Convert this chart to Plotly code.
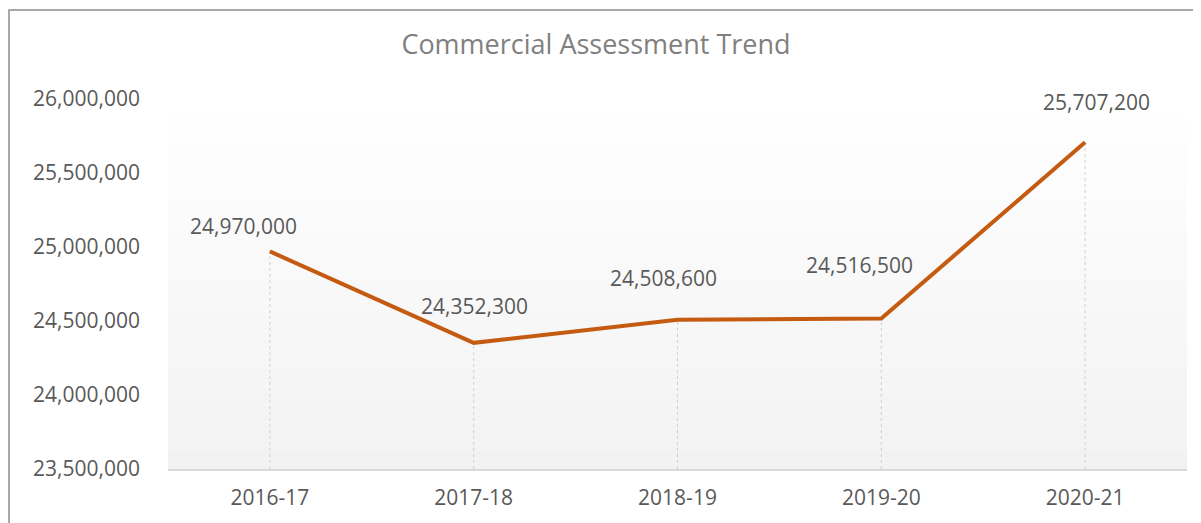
import plotly.graph_objects as go

years = ["2016-17", "2017-18", "2018-19", "2019-20", "2020-21"]
assessed = [24970000, 24352300, 24508600, 24516500, 25707200]
y_ticks = [23500000, 24000000, 24500000, 25000000, 25500000, 26000000]

# where Excel placed each data label relative to its point (pixels)
label_dx = [-26, 1, -14, -22, 11]
label_dy = [25, 37, 42, 54, 40]

y_min = y_ticks[0]
text_gray = "#595959"
font_name = "Open Sans"

# drop lines from each point down to the axis
drop_x, drop_y = [], []
for yr, val in zip(years, assessed):
    drop_x += [yr, yr, None]
    drop_y += [y_min, val, None]

drop_trace = go.Scatter(
    x=drop_x, y=drop_y, mode="lines",
    line=dict(color="#cfcfcf", width=1, dash="dot"),
    hoverinfo="skip",
)

line_trace = go.Scatter(
    x=years, y=assessed, mode="lines",
    line=dict(color="#C55A11", width=4),
)

fig = go.Figure(data=[drop_trace, line_trace])

# vertical gradient for the plot area (white at top, light gray at bottom)
n_steps = 40
shapes = []
for i in range(n_steps):
    t = i / (n_steps - 1)
    c = round(255 - (255 - 242) * t)
    shapes.append(dict(
        type="rect", xref="x domain", yref="y domain",
        x0=0, x1=1, y0=1 - (i + 1) / n_steps, y1=1 - i / n_steps,
        fillcolor=f"rgb({c},{c},{c})", line=dict(width=0), layer="below",
    ))
# outer chart border
shapes.append(dict(
    type="rect", xref="paper", yref="paper",
    x0=-160 / 1019 + 0.001, x1=1.05, y0=-0.3, y1=1.0 + 89 / 370,
    line=dict(color="#8c8c8c", width=1.5), fillcolor="rgba(0,0,0,0)",
))

annotations = []
for yr, val, dx, dy in zip(years, assessed, label_dx, label_dy):
    annotations.append(dict(
        x=yr, y=val, text=f"{val:,}", showarrow=False,
        yanchor="middle", xshift=dx, yshift=dy,
        font=dict(family=font_name, size=21, color=text_gray),
    ))

fig.update_layout(
    width=1193, height=515,
    margin=dict(l=160, r=14, t=91, b=54),
    paper_bgcolor="white", plot_bgcolor="white",
    showlegend=False,
    shapes=shapes,
    annotations=annotations,
    title=dict(
        text="Commercial Assessment Trend", x=588 / 1193, xanchor="center",
        y=1 - 37 / 515, yanchor="middle",
        font=dict(family=font_name, size=27, color="#808080"),
    ),
    xaxis=dict(
        type="category", range=[-0.5, 4.5], showgrid=False,
        showline=True, linecolor="#d9d9d9", linewidth=2,
        ticks="", tickfont=dict(family=font_name, size=21, color=text_gray),
        ticklabelstandoff=9,
    ),
    yaxis=dict(
        range=[y_ticks[0], y_ticks[-1]], tickvals=y_ticks,
        tickformat=",d", showgrid=False, zeroline=False, showline=False,
        tickfont=dict(family=font_name, size=21, color=text_gray),
        ticklabelstandoff=27,
    ),
)

fig.write_html("out.html")
